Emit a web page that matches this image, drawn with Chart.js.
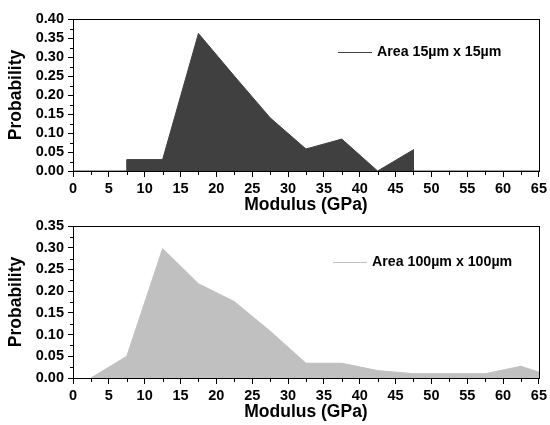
<!DOCTYPE html>
<html>
<head>
<meta charset="utf-8">
<script src="https://cdn.jsdelivr.net/npm/chart.js@4/dist/chart.umd.min.js"></script>
<style>
  body { margin: 0; background: #fff; width: 550px; height: 425px; overflow: hidden; position: relative; }
  canvas { position: absolute; left: 0; }
  #chartTop { top: 0; }
  #chartBottom { top: 207px; }
</style>
</head>
<body>
<canvas id="chartTop" width="550" height="218"></canvas>
<canvas id="chartBottom" width="550" height="218"></canvas>
<script>
// modulus (GPa) and probability
const smallAreaX = [0, 7.5, 7.5, 12.5, 17.5, 22.5, 27.5, 32.5, 37.5, 42.5, 47.5, 47.5, 65];
const smallAreaY = [0, 0, 0.03, 0.03, 0.362, 0.25, 0.14, 0.058, 0.084, 0, 0.056, 0, 0];

const largeAreaX = [2.5, 7.5, 12.5, 17.5, 22.5, 27.5, 32.5, 37.5, 42.5, 47.5, 52.5, 57.5, 62.5, 67.5];
const largeAreaY = [0, 0.05, 0.298, 0.217, 0.176, 0.108, 0.034, 0.034, 0.017, 0.01, 0.01, 0.01, 0.027, 0];

const xTitle = "Modulus (GPa)";
const yTitle = "Probability";

const FONT = "'Liberation Sans', Arial, Helvetica, sans-serif";

// box round the plot area + short minor ticks halfway between the major ones
const framePlugin = {
    id: "frame",
    afterDraw(chart) {
        const ctx = chart.ctx;
        const a = chart.chartArea;
        ctx.save();
        ctx.strokeStyle = "#000";
        ctx.lineWidth = 1;
        ctx.strokeRect(Math.round(a.left) + 0.5, Math.round(a.top) + 0.5,
            Math.round(a.right - a.left), Math.round(a.bottom - a.top));

        const xs = chart.scales.x;
        for (let i = 0; i < xs.ticks.length - 1; i++) {
            const px = Math.round(xs.getPixelForValue((xs.ticks[i].value + xs.ticks[i + 1].value) / 2)) + 0.5;
            ctx.beginPath();
            ctx.moveTo(px, a.bottom);
            ctx.lineTo(px, a.bottom + 4);
            ctx.stroke();
        }
        const ys = chart.scales.y;
        for (let i = 0; i < ys.ticks.length - 1; i++) {
            const py = Math.round(ys.getPixelForValue((ys.ticks[i].value + ys.ticks[i + 1].value) / 2)) + 0.5;
            ctx.beginPath();
            ctx.moveTo(a.left, py);
            ctx.lineTo(a.left - 3, py);
            ctx.stroke();
        }
        ctx.restore();
    }
};

// legend: a short line and the label, inside the plot area
const legendPlugin = {
    id: "innerLegend",
    afterDraw(chart, args, opts) {
        const ctx = chart.ctx;
        const a = chart.chartArea;
        const ds = chart.data.datasets[0];
        const x0 = a.left + opts.dx;
        const y0 = Math.round(a.top + opts.dy) + 0.5;
        ctx.save();
        ctx.strokeStyle = ds.borderColor;
        ctx.lineWidth = 1;
        ctx.beginPath();
        ctx.moveTo(x0, y0);
        ctx.lineTo(x0 + 34, y0);
        ctx.stroke();
        ctx.fillStyle = "#000";
        ctx.font = "bold 14.2px " + FONT;
        ctx.textBaseline = "middle";
        ctx.fillText(ds.label, x0 + 39, y0);
        ctx.restore();
    }
};

function toPoints(xs, ys) {
    return xs.map((x, i) => ({x: x, y: ys[i]}));
}

function makeChart(canvasId, label, xs, ys, color, yMax, legendPos) {
    new Chart(document.getElementById(canvasId), {
        type: "line",
        data: {
            datasets: [{
                label: label,
                data: toPoints(xs, ys),
                borderColor: color,
                backgroundColor: color,
                borderWidth: 1,
                pointRadius: 0,
                tension: 0,
                fill: "origin"
            }]
        },
        options: {
            responsive: false,
            animation: false,
            devicePixelRatio: 1,
            layout: {padding: {left: 0, right: 11, top: 19, bottom: 0}},
            plugins: {
                legend: {display: false},
                tooltip: {enabled: false},
                innerLegend: legendPos
            },
            scales: {
                x: {
                    type: "linear",
                    min: 0,
                    max: 65,
                    afterFit: (s) => { s.height = 47; },
                    ticks: {
                        stepSize: 5,
                        autoSkip: false,
                        color: "#000",
                        padding: 3,
                        maxRotation: 0,
                        font: {family: FONT, size: 14.5, weight: "bold"}
                    },
                    grid: {drawOnChartArea: false, color: "#000", tickLength: 6},
                    border: {color: "#000"},
                    title: {
                        display: true,
                        text: xTitle,
                        color: "#000",
                        padding: {top: 0, bottom: 2},
                        font: {family: FONT, size: 17.5, weight: "bold"}
                    }
                },
                y: {
                    min: 0,
                    max: yMax,
                    afterFit: (s) => { s.width = 73; },
                    ticks: {
                        stepSize: 0.05,
                        autoSkip: false,
                        color: "#000",
                        padding: 4,
                        font: {family: FONT, size: 14.5, weight: "bold"},
                        callback: (v) => v.toFixed(2)
                    },
                    grid: {drawOnChartArea: false, color: "#000", tickLength: 5},
                    border: {color: "#000"},
                    title: {
                        display: true,
                        text: yTitle,
                        color: "#000",
                        padding: {top: 6, bottom: 0},
                        font: {family: FONT, size: 17.5, weight: "bold"}
                    }
                }
            }
        },
        plugins: [framePlugin, legendPlugin]
    });
}

makeChart("chartTop", "Area 15\u00b5m x 15\u00b5m", smallAreaX, smallAreaY, "#404040", 0.40, {dx: 265, dy: 33});
makeChart("chartBottom", "Area 100\u00b5m x 100\u00b5m", largeAreaX, largeAreaY, "#c0c0c0", 0.35, {dx: 260, dy: 36});
</script>
</body>
</html>
